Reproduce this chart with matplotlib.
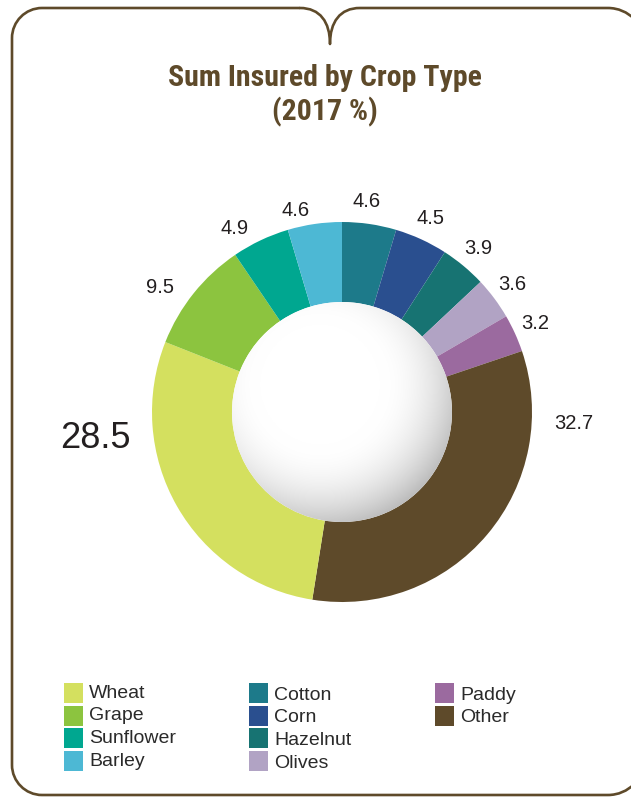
import numpy as np
import matplotlib
matplotlib.use("Agg")
import matplotlib.pyplot as plt
from matplotlib.patches import Circle, Rectangle, PathPatch
from matplotlib.path import Path
from matplotlib import font_manager

# Sum insured by crop type, 2017 (%), clockwise from the top
crops = ["Cotton", "Corn", "Hazelnut", "Olives", "Paddy",
         "Other", "Wheat", "Grape", "Sunflower", "Barley"]
shares = [4.6, 4.5, 3.9, 3.6, 3.2, 32.7, 28.5, 9.5, 4.9, 4.6]
colors = ["#1d7a8a", "#2a4f8f", "#177372", "#b1a3c4", "#9b6a9f",
          "#5e4a2a", "#d4e05f", "#8cc43f", "#00a790", "#4db8d4"]

# legend order (three columns)
legend_order = ["Wheat", "Grape", "Sunflower", "Barley",
                "Cotton", "Corn", "Hazelnut", "Olives",
                "Paddy", "Other"]

W, H = 631, 797
BROWN = "#5e4a2a"
TEXT = "#231f20"

installed = {f.name for f in font_manager.fontManager.ttflist}
title_font = [f for f in ["Roboto Condensed", "DejaVu Sans Condensed",
                          "Liberation Sans Narrow", "Liberation Sans"]
              if f in installed] or ["DejaVu Sans"]
label_font = ["Liberation Sans", "DejaVu Sans"]

fig = plt.figure(figsize=(W / 100, H / 100), dpi=100)
ax = fig.add_axes([0, 0, 1, 1])
ax.axis("off")


def yp(y):
    """pixel row (from top) -> data y"""
    return H - y


BK = 0.55  # bezier constant for quarter-circle corners


def corner_curve(p0, p1, p2):
    """cubic control points approximating a rounded corner p0 -> p2 about p1"""
    c1 = (p0[0] + BK * (p1[0] - p0[0]), p0[1] + BK * (p1[1] - p0[1]))
    c2 = (p2[0] + BK * (p1[0] - p2[0]), p2[1] + BK * (p1[1] - p2[1]))
    return [c1, c2, p2]


# ---- rounded frame; the right side runs past the figure edge ----
L, T, B = 12, 8, 795
r_left = 30
top_right_x = 608      # where the top-right corner starts to bend
verts = [(300, T), (L + r_left, T)]
verts += corner_curve((L + r_left, T), (L, T), (L, T + r_left))
verts += [(L, B - r_left)]
verts += corner_curve((L, B - r_left), (L, B), (L + r_left, B))
verts += [(608, B)]
verts += corner_curve((608, B), (645, B), (645, B - 37))
codes = ([Path.MOVETO, Path.LINETO] + [Path.CURVE4] * 3 + [Path.LINETO]
         + [Path.CURVE4] * 3 + [Path.LINETO] + [Path.CURVE4] * 3)
ax.add_patch(PathPatch(Path([(x, yp(y)) for x, y in verts], codes),
                       fill=False, edgecolor=BROWN, lw=1.9,
                       capstyle="butt", joinstyle="round"))

verts2 = [(645, T + 37)]
verts2 += corner_curve((645, T + 37), (645, T), (top_right_x, T))
verts2 += [(360, T), (340, T), (330, T + 14), (330, 44)]
codes2 = [Path.MOVETO] + [Path.CURVE4] * 3 + [Path.LINETO] + [Path.CURVE4] * 3
ax.add_patch(PathPatch(Path([(x, yp(y)) for x, y in verts2], codes2),
                       fill=False, edgecolor=BROWN, lw=1.9,
                       capstyle="butt", joinstyle="round"))

notch = Path([(x, yp(y)) for x, y in [(300, T), (320, T), (330, T + 14), (330, 44)]],
             [Path.MOVETO, Path.CURVE4, Path.CURVE4, Path.CURVE4])
ax.add_patch(PathPatch(notch, fill=False, edgecolor=BROWN, lw=1.9,
                       capstyle="round"))

# ---- title ----
ax.text(325, yp(78), "Sum Insured by Crop Type", ha="center", va="center",
        fontsize=21.5, fontweight="bold", fontstretch="condensed",
        color=BROWN, family=title_font)
ax.text(325, yp(112), "(2017 %)", ha="center", va="center",
        fontsize=21.5, fontweight="bold", fontstretch="condensed",
        color=BROWN, family=title_font)

# ---- donut ----
cx, cy = 342, yp(412)
R_out = 190
R_in = 110
wedges, _ = ax.pie(shares, colors=colors, startangle=90, counterclock=False,
                   center=(cx, cy), radius=R_out, frame=True,
                   wedgeprops=dict(width=R_out - R_in, linewidth=0))

# shaded centre disc
n = 400
u = np.linspace(-1, 1, n)
U, V = np.meshgrid(u, u[::-1])
d = np.sqrt((U + 0.2) ** 2 + (V - 0.25) ** 2)
shade = 1 - 0.36 * np.clip((d - 0.55) / 0.9, 0, 1) ** 2
rgb = np.dstack([shade, shade, shade])
img = ax.imshow(rgb, extent=(cx - R_in, cx + R_in, cy - R_in, cy + R_in),
                origin="upper", interpolation="bilinear", zorder=3)
img.set_clip_path(Circle((cx, cy), R_in, transform=ax.transData))

# ---- value labels ----
cum = 0.0
total = sum(shares)
for name, val in zip(crops, shares):
    mid = 90 - 360 * (cum + val / 2) / total
    cum += val
    a = np.deg2rad(mid)
    txt = f"{val:.1f}"
    if name == "Other":
        ax.text(cx + 1.22 * R_out, yp(423), txt, ha="center", va="center",
                fontsize=14.5, color=TEXT, family=label_font)
        continue
    if name == "Wheat":
        ax.text(95, yp(438), txt, ha="center", va="center",
                fontsize=26, color=TEXT, family=label_font)
        continue
    rr = 1.12 * R_out
    x = cx + rr * np.cos(a)
    y = cy + rr * np.sin(a)
    if np.cos(a) < -0.05:
        ax.text(x - 2, y - 9, txt, ha="right", va="center", fontsize=14.5,
                color=TEXT, family=label_font)
    else:
        ax.text(x - (6 if np.cos(a) < 0.2 else 0), y, txt, ha="center",
                va="center", fontsize=14.5, color=TEXT, family=label_font)

# ---- legend ----
col_x = [64, 249, 435]
row_y0 = 693
row_dy = 22.7
color_of = dict(zip(crops, colors))
for i, name in enumerate(legend_order):
    col, row = divmod(i, 4)
    x0 = col_x[col]
    yc = row_y0 + row * row_dy
    ax.add_patch(Rectangle((x0, yp(yc + 10)), 19, 20,
                           facecolor=color_of[name], edgecolor="none"))
    ax.text(x0 + 25, yp(yc + (2 if col else 0)), name, ha="left", va="center",
            fontsize=14, color="#2a2a2a", family=label_font)

ax.set_xlim(0, W)
ax.set_ylim(0, H)
ax.set_aspect("equal")
ax.axis("off")

fig.savefig("out.png", dpi=100)
